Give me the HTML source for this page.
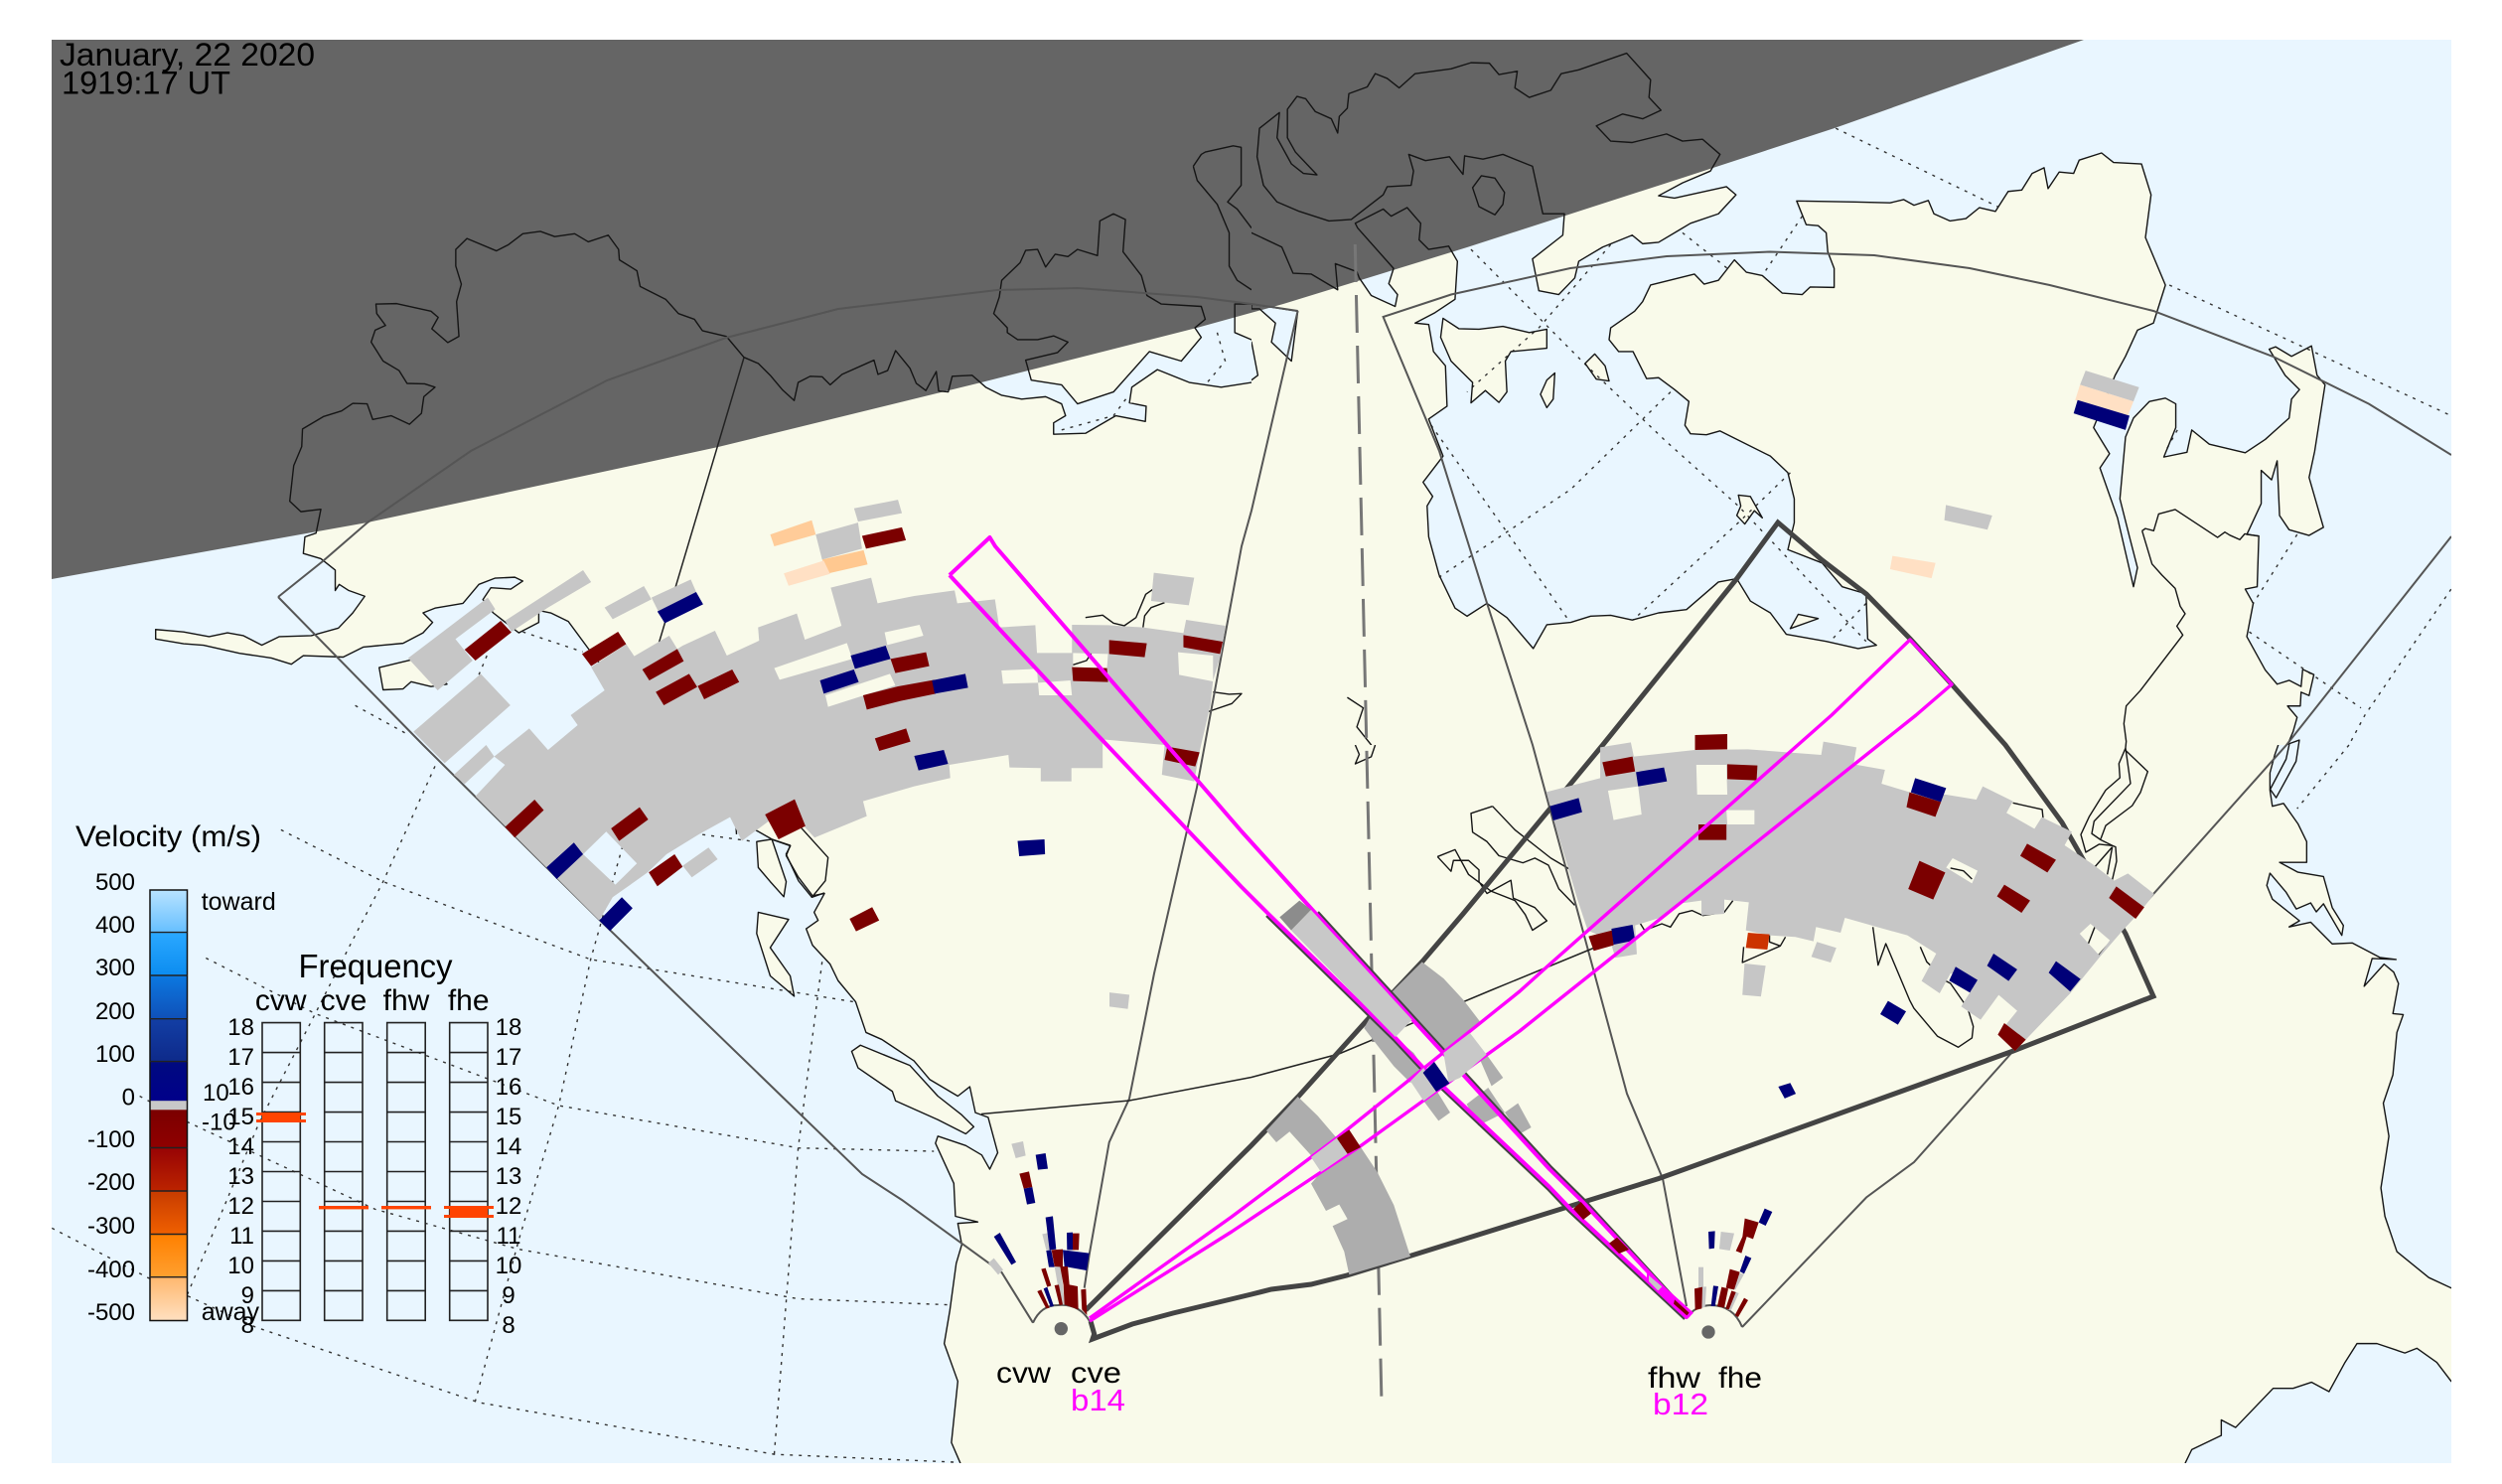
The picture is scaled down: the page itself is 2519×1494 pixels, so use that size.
<!DOCTYPE html>
<html><head><meta charset="utf-8"><title>SuperDARN map</title>
<style>
html,body{margin:0;padding:0;background:#fff}
svg{display:block}
polygon,polyline,path,rect,line,circle{vector-effect:non-scaling-stroke}
text{font-family:"Liberation Sans",sans-serif;fill:#000}
.dot{fill:none;stroke:#333;stroke-width:1.4;stroke-dasharray:3 6}
.coast{fill:none;stroke:#151515;stroke-width:1.4;stroke-linejoin:round}
.g{fill:#c6c6c6;fill-rule:evenodd}
.h{fill:#adadad}
.r{fill:#7b0000}
.b{fill:#000078}
.m{fill:none;stroke:#ff00ff;stroke-width:3.4;stroke-linejoin:round}
.mw{fill:none;stroke:#ff00ff;stroke-width:4;stroke-linejoin:round}
.n{font-size:24px;text-anchor:end}
.f{font-size:24px;text-anchor:end}
.fr{font-size:24px;text-anchor:middle}
.s{font-size:30px}
</style></head><body>
<svg xmlns="http://www.w3.org/2000/svg" width="2519" height="1494" viewBox="0 0 2519 1494">
<defs>
<clipPath id="c1"><rect x="52" y="40" width="1208" height="710"/></clipPath>
<clipPath id="c2"><rect x="1260" y="40" width="1208" height="710"/></clipPath>
<clipPath id="c3"><rect x="52" y="750" width="1208" height="723"/></clipPath>
<clipPath id="c4"><rect x="1260" y="750" width="1208" height="723"/></clipPath>
<clipPath id="plot"><rect x="52" y="40" width="2416" height="1433"/></clipPath>
<linearGradient id="cb" x1="0" y1="0" x2="0" y2="1">
<stop offset="0" stop-color="#b8e3ff"/><stop offset=".099" stop-color="#66bfff"/>
<stop offset=".1" stop-color="#2aa8ff"/><stop offset=".199" stop-color="#0c8cf0"/>
<stop offset=".2" stop-color="#0c78e0"/><stop offset=".3" stop-color="#0f50b8"/>
<stop offset=".301" stop-color="#123ea4"/><stop offset=".399" stop-color="#0e2a8a"/>
<stop offset=".4" stop-color="#000a80"/><stop offset=".489" stop-color="#00008a"/>
<stop offset=".49" stop-color="#c8c8c8"/><stop offset=".51" stop-color="#c8c8c8"/>
<stop offset=".511" stop-color="#7b0000"/><stop offset=".6" stop-color="#900000"/>
<stop offset=".601" stop-color="#980404"/><stop offset=".7" stop-color="#bc2400"/>
<stop offset=".701" stop-color="#c83c00"/><stop offset=".8" stop-color="#f06000"/>
<stop offset=".801" stop-color="#ff8000"/><stop offset=".9" stop-color="#ffa030"/>
<stop offset=".901" stop-color="#ffb870"/><stop offset="1" stop-color="#ffe0c0"/>
</linearGradient>
<g id="q1land">
<polygon points="195,1325 230,1330 262,1340 285,1332 305,1338 328,1358 350,1340 390,1338 424,1322 442,1290 457,1255 437,1243 425,1230 420,1243 420,1200 402,1176 380,1165 382,1130 396,1122 402,1072 377,1077 363,1055 368,980 378,940 379,903 405,877 428,865 442,849 460,850 467,883 490,875 513,893 528,870 531,835 545,815 532,808 510,807 500,780 480,760 465,720 470,695 483,685 472,660 471,640 497,639 540,655 549,668 541,692 561,721 575,708 572,635 578,598 571,560 571,525 585,502 622,528 637,515 655,492 677,487 695,498 720,492 737,509 762,495 775,525 776,547 798,570 802,603 834,630 850,660 870,672 880,696 910,708 932,752 950,765 965,790 980,820 995,843 1000,805 1015,792 1030,793 1040,810 1055,788 1095,758 1100,788 1112,780 1122,738 1140,775 1148,807 1160,822 1173,782 1176,823 1188,825 1193,792 1218,790 1235,815 1255,832 1280,840 1310,835 1330,850 1335,875 1320,890 1320,914 1360,912 1398,875 1435,887 1436,855 1415,848 1418,815 1450,778 1490,805 1530,815 1568,805 1580,805 1580,1580 835,1580 737,1365 712,1308 690,1290 675,1285 675,1310 650,1332 618,1290 605,1262 615,1237 640,1240 655,1223 645,1215 620,1217 600,1230 580,1270 545,1280 530,1290 542,1310 530,1332 505,1354 455,1362 430,1383 380,1380 365,1398 340,1385 300,1375 255,1358 230,1355 195,1345"/>
<polygon points="1285,758 1292,800 1330,810 1350,850 1395,825 1440,740 1480,760 1505,710 1497,690 1510,672 1505,645 1455,640 1437,622 1430,580 1407,530 1410,462 1395,450 1378,465 1375,538 1350,525 1338,540 1322,535 1310,562 1300,525 1285,527 1278,553 1255,590 1252,625 1245,660 1262,690 1262,700 1275,715 1300,715 1320,707 1338,720 1325,742"/>
<polygon points="1547,640 1547,700 1568,715 1580,715 1580,640"/>
<polygon points="475,1405 500,1395 525,1385 560,1440 540,1445 515,1435 505,1450 480,1452"/>
</g>
<g id="q2land">
<polygon points="258,550 247,518 222,525 210,505 212,470 195,437 175,455 165,440 130,470 133,480 178,565 172,597 183,620 180,645 150,622 135,585 132,572 105,555 108,610 75,577 52,575 38,520 0,490 -8,490 -8,720 0,720 8,790 0,800 -8,805 -8,1580 1295,1580 1305,1540 1310,1510 1298,1486 1314,1486 1315,1457 1325,1464 1331,1420 1317,1409 1315,1445 1300,1432 1285,1440 1270,1410 1247,1340 1255,1270 1245,1240 1260,1235 1262,1128 1247,1125 1265,1060 1265,990 1278,1010 1285,970 1288,1085 1300,1115 1325,1127 1343,1110 1325,1005 1332,950 1345,810 1335,790 1328,728 1303,750 1283,730 1275,735 1295,790 1313,820 1303,840 1300,880 1270,925 1245,953 1200,935 1178,905 1172,952 1143,962 1158,900 1158,850 1145,838 1125,845 1105,880 1095,920 1088,1050 1100,1130 1110,1195 1105,1235 1085,1090 1063,985 1075,955 1055,900 1082,790 1095,750 1110,695 1130,680 1145,600 1120,500 1127,410 1115,345 1080,342 1065,322 1037,337 1030,365 1012,362 998,397 993,353 978,365 965,400 948,403 932,445 912,437 895,460 875,465 855,450 848,422 830,432 817,420 800,427 755,425 683,423 695,473 710,475 720,490 722,530 730,565 730,605 700,604 690,620 665,617 640,580 620,573 605,547 585,590 567,598 555,577 500,600 490,635 480,655 450,690 448,715 460,740 478,740 495,797 510,795 530,820 548,845 543,895 550,913 570,915 587,907 650,960 672,995 680,1050 680,1100 672,1157 715,1185 740,1235 770,1250 772,1345 783,1358 760,1365 720,1350 670,1335 650,1290 625,1265 608,1218 585,1225 545,1283 510,1290 477,1305 450,1295 425,1297 400,1310 370,1315 353,1365 320,1300 295,1270 270,1297 255,1280 235,1210 222,1130 220,1065 227,1045 215,1015 240,960 222,882 245,855 243,770 228,740 222,683 205,680 230,658 255,630"/>
<polygon points="510,412 530,417 595,393 607,410 585,450 550,470 535,485 510,510 490,513 477,495 440,520 410,550 405,585 385,620 360,612 352,545 390,495 392,450 365,450 352,350 315,325 290,335 267,328 265,367 248,330 218,338 197,325 203,360 200,390 170,393 165,410 125,462 97,465 60,445 32,425 15,390 7,330 10,270 35,237 32,290 50,345 65,365 82,368 55,320 45,290 45,230 57,203 68,208 80,235 100,250 108,280 110,245 120,228 122,197 145,183 155,155 170,165 185,185 205,155 250,145 275,132 298,133 310,157 333,150 330,185 348,205 375,190 388,155 410,147 470,112 500,168 498,205 513,232 490,250 465,240 432,265 450,297 477,300 520,282 540,297 565,293 587,325 575,360 540,385"/>
<polygon points="240,670 260,692 285,693 315,687 348,700 370,693 370,733 325,740 318,760 320,825 310,847 293,822 275,848 277,805 250,760 237,710"/>
<polygon points="418,765 430,745 443,770 448,802 432,798"/>
<polygon points="362,830 370,800 380,785 378,840 370,858"/>
<polygon points="610,1042 625,1045 640,1090 630,1075 618,1103 608,1085 613,1065"/>
<polygon points="675,1323 685,1293 710,1302"/>
</g>
<g id="q2water"><polygon points="0,640 58,655 50,760 25,720 30,680 10,650 0,650"/></g>
<g id="q3land">
<polygon points="835,-8 919,154 967,200 990,213 985,235 1000,280 1018,320 1033,315 1020,355 1025,372 1010,390 1018,425 1040,465 1050,500 1072,545 1085,610 1105,625 1145,670 1165,710 1200,745 1215,725 1222,780 1238,790 1250,865 1240,900 1230,870 1210,850 1175,830 1172,845 1195,930 1197,1000 1225,1012 1200,1015 1205,1060 1198,1100 1190,1200 1183,1270 1200,1350 1192,1480 1203,1523 1203,1540 1580,1540 1580,-8"/>
<polygon points="948,205 967,200 985,290 982,322 965,290 950,260"/>
<polygon points="950,355 988,370 965,430 990,490 995,533 965,490 948,400"/>
</g>
<g id="q3water"><polygon points="1067,650 1078,637 1140,680 1175,745 1205,785 1220,810 1210,825 1175,795 1122,755 1118,735 1075,685"/></g>
<g id="q4land">
<polygon points="-8,-8 1288,-8 1282,21 1276,59 1276,96 1279,130 1293,124 1311,167 1322,205 1322,249 1288,249 1311,270 1343,279 1354,345 1368,383 1366,404 1343,337 1334,354 1327,335 1309,348 1296,312 1276,272 1272,298 1279,327 1313,373 1300,386 1327,376 1354,422 1379,420 1414,451 1434,455 1404,453 1394,512 1419,465 1431,482 1437,506 1430,570 1443,572 1435,610 1430,700 1418,760 1425,830 1415,940 1420,1000 1435,1075 1475,1130 1503,1152 1520,1152 1520,1370 1503,1350 1485,1310 1460,1280 1445,1290 1410,1270 1385,1270 1370,1310 1350,1372 1328,1352 1305,1365 1280,1365 1233,1448 1215,1432 1215,1465 1178,1495 1170,1523 1170,1540 -8,1540"/>
</g>
</defs>

<rect x="52" y="40" width="2416" height="1433" fill="#e9f6ff"/>

<!-- land fills -->
<g clip-path="url(#c1)"><g transform="scale(.8036,.4783)"><use href="#q1land" fill="#f9faea"/></g></g>
<g clip-path="url(#c2)"><g transform="translate(1260,0) scale(.8036,.4783)"><use href="#q2land" fill="#f9faea"/><use href="#q2water" fill="#e9f6ff"/></g></g>
<g clip-path="url(#c3)"><g transform="translate(0,750) scale(.8036,.4745)"><use href="#q3land" fill="#f9faea"/><use href="#q3water" fill="#f9faea"/></g></g>
<g clip-path="url(#c4)"><g transform="translate(1260,750) scale(.8036,.4745)"><use href="#q4land" fill="#f9faea"/></g></g>

<!-- dotted grid -->
<g clip-path="url(#plot)">
<g transform="translate(0,750) scale(.8036,.4745)">
<polyline class="dot" points="352,180 480,290 740,455 1070,545"/>
<polyline class="dot" points="258,452 395,570 700,765 1000,855 1170,862"/>
<polyline class="dot" points="175,745 235,800 470,985 650,1070 1000,1175 1190,1188"/>
<polyline class="dot" points="65,1025 185,1130 320,1235 600,1395 970,1505 1200,1522"/>
<polyline class="dot" points="545,45 480,290 440,420 395,570 325,800 235,1165"/>
<polyline class="dot" points="780,215 740,455 700,765 650,1050 595,1395"/>
<polyline class="dot" points="1030,460 1000,855 970,1505"/>
<polyline class="dot" points="880,190 945,205"/>
</g>
<g transform="scale(.8036,.4783)">
<polyline class="dot" points="445,1485 510,1545"/>
<polyline class="dot" points="655,1330 730,1372"/>
<polyline class="dot" points="610,1380 600,1420"/>
<polyline class="dot" points="1525,700 1535,760 1510,810"/>
<polyline class="dot" points="1330,905 1395,875 1415,830"/>
</g>
<g transform="translate(1260,0) scale(.8036,.4783)">
<polyline class="dot" points="732,270 935,435"/>
<polyline class="dot" points="275,525 420,770 520,930 610,1065 770,1350"/>
<polyline class="dot" points="540,490 600,570"/>
<polyline class="dot" points="690,455 640,580"/>
<polyline class="dot" points="450,515 360,690 270,825"/>
<polyline class="dot" points="525,825 400,1030 235,1215"/>
<polyline class="dot" points="225,895 320,1120 395,1300"/>
<polyline class="dot" points="675,995 610,1100 478,1305"/>
<polyline class="dot" points="1150,600 1330,740 1503,875"/>
<polyline class="dot" points="1310,1125 1255,1270"/>
<polyline class="dot" points="1250,1330 1390,1490"/>
<polyline class="dot" points="1503,1240 1395,1505 1375,1568"/>
<polyline class="dot" points="770,1270 725,1350"/>
<polyline class="dot" points="1160,905 1145,950"/>
</g>
<g transform="translate(1260,750) scale(.8036,.4745)"><polyline class="dot" points="1375,0 1310,135"/></g>
</g>

<!-- terminator -->
<polygon fill="#656565" points="52,40 2098,40 1847,129 1694,179 1477,249 1292,306 1205,330 988,385 723,450 370,526 52,583"/>

<!-- coast strokes -->
<g clip-path="url(#c1)"><g transform="scale(.8036,.4783)" class="coast">
<use href="#q1land"/>
<polyline points="1495,350 1505,325 1510,320 1545,307 1555,310 1555,390 1538,425 1550,440 1568,480"/>
<polyline points="1495,350 1500,380 1525,430 1540,490 1540,560 1550,590 1568,610"/>
</g></g>
<g clip-path="url(#c2)"><g transform="translate(1260,0) scale(.8036,.4783)" class="coast">
<use href="#q2land"/><use href="#q2water"/>
<polyline points="120,1468 140,1490 132,1530 150,1568 155,1600"/>
<polygon points="288,370 305,375 317,405 315,430 305,452 285,435 277,395"/>
</g></g>
<g clip-path="url(#c3)"><g transform="translate(0,750) scale(.8036,.4745)" class="coast"><use href="#q3land"/><use href="#q3water"/></g></g>
<g clip-path="url(#c4)"><g transform="translate(1260,750) scale(.8036,.4745)" class="coast">
<use href="#q4land"/>
<polyline points="155,0 150,25 130,40 135,20 130,0"/>
<polyline points="302,130 275,145 277,185 295,205 310,235 340,250 355,240 372,255 385,305 405,340"/>
<polyline points="302,130 330,180 375,240 400,265"/>
<polyline points="233,237 250,268 253,245 272,245 285,265 285,290 295,315 325,287 328,325 355,345 370,373 352,393 343,360 330,330 300,310 272,275 255,222 233,237"/>
</g></g>
<g clip-path="url(#plot)"><g transform="translate(2000,300) scale(.3333,.4464)" class="coast">
<polyline points="470,525 480,520 505,525 520,487 570,477 698,540 720,528 735,535 765,545 780,532 820,537"/>
<polyline points="470,525 500,600 530,625 570,655 585,695 600,712 575,740 593,760 465,885 422,920 415,960 422,1000 420,1015"/>
<polyline points="420,1015 400,1050 403,1082 360,1110 310,1170 285,1210 300,1250 340,1232 380,1235"/>
<polyline points="420,1015 435,1095 325,1180 318,1208 345,1222 380,1235 390,1238 393,1270 380,1312"/>
<polyline points="380,1238 365,1300"/><polyline points="325,1285 380,1238"/>
<polyline points="420,1020 487,1068 465,1115 440,1145 360,1190 345,1220"/>
<polygon points="945,997 935,1045 875,1127 857,1108 905,1040 915,1005"/>
</g>
<g transform="translate(400,550) scale(.5421,.3333)" class="coast">
<polyline points="1278,215 1310,208 1330,232 1350,240 1372,215 1390,145 1405,128"/>
<polyline points="1385,245 1388,210 1400,185 1425,170"/>
<polyline points="1255,358 1280,345 1290,320"/>
<polyline points="1515,440 1545,447 1568,445 1550,475 1505,500"/>
<polyline points="750,850 800,940 795,1010 770,1060 793,1047"/>
<polyline points="695,885 730,905 722,930 745,1010 770,1060"/>
<polyline points="628,820 630,870"/>
</g>
<g transform="translate(1530,720) scale(.4337,.3333)" class="coast">
<polyline points="820,640 832,755 850,690 905,860 915,885 970,970 1018,1003 1050,975 1053,940 1040,885 1000,810 985,800"/>
<polyline points="930,700 945,745 965,770"/>
<polyline points="520,700 517,747 605,697 617,670"/>
<polyline points="580,665 580,685 605,697"/>
<polyline points="278,625 290,650 330,630 350,640 370,600 400,590 425,605 475,595 495,560"/>
<polyline points="1145,265 1213,285 1215,310"/>
<polyline points="1000,462 1030,470 1050,495"/>
<polyline points="1320,690 1335,640"/>
</g></g>

<!-- thin FOV lines -->
<g clip-path="url(#plot)" fill="none" stroke="#555" stroke-width="2">
<polyline points="280,601 426,750 603,925.6 868,1182 908,1208 1008.5,1281 1040,1331.7"/>
<polyline points="280,601 325,565 370,526 474,454 611,383 731,340 844,311 1004,292 1085,290 1205,299 1260,306 1306.6,313"/>
<polyline points="1306.6,313 1260,514 1250,550 1205,792.7 1162,980 1137,1106 1116.7,1150 1096.7,1263 1091.7,1296.7"/>
<polyline points="2468,458 2385,406.6 2288.6,359 2168,313 2063.6,287 1983,270 1887,257 1782,253.5 1678,258 1581,270 1461,296.5 1392.6,319 1449,454 1497,607 1543,750 1638,1101 1674,1186.5 1698,1315"/>
<polyline points="2468,540 2302,750 2027,1058 1927,1170 1879,1205.5 1754,1336"/>
<path d="M1040,1331.7 Q1048,1314 1065,1314 Q1086,1312 1097,1330"/>
<path d="M1699,1326 Q1706,1315 1722,1314 Q1745,1314 1754,1336"/>
<polyline stroke="#222" stroke-width="1.5" points="749,360 659,662"/>
<polyline stroke="#222" stroke-width="1.5" points="988,1121.5 1137,1108 1260,1084.5 1348,1061 1501,997 1605.5,954"/>
</g>

<!-- dashed divider -->
<line x1="1364.3" y1="246" x2="1391" y2="1413" stroke="#777" stroke-width="3" stroke-dasharray="38 13"/>

<!-- bold sector -->
<polyline fill="none" stroke="#444" stroke-width="5" stroke-linejoin="miter" points="1098,1330 1101.7,1343 1100,1348 1140,1333 1181,1322 1260,1303 1280,1298 1320,1293 1356,1284 1421,1264 1670,1186.5 2027,1058 2168,1003 2140,940 2076,828 2019,750 1965,689 1923,643 1879,598 1834.6,564 1790,526 1748.6,582.6 1613.6,750 1473,920 1432,968 1380,1023 1307,1104 1260,1153 1093,1319"/>

<!-- echoes west -->
<g transform="translate(400,550) scale(.5421,.3333)">
<path class="g" d="M805,125 880,95 892,172 960,150 1035,133 1040,172 1110,160 1118,245 1185,238 1188,322 1253,322 1253,237 1320,238 1385,245 1460,262 1465,222 1538,240 1530,325 1515,405 1510,480 1490,620 1480,710 1420,690 1425,600 1310,583 1310,670 1252,670 1252,710 1195,710 1195,670 1137,668 1135,630 1025,660 1027,700 960,725 865,770 872,815 775,880 755,845 708,883 690,830 640,890 618,818 560,870 500,930 465,985 400,1060 375,1130 145,755 200,660 180,635 245,550 280,615 335,540 322,510 385,435 360,365 425,295 440,332 505,270 520,310 530,300 590,255 612,330 672,285 670,245 742,203 757,282 825,240Z
M905,260 970,237 977,270 910,298Z M700,368 835,292 845,340 710,403Z M795,450 915,385 925,420 800,485Z M1122,375 1188,370 1190,412 1125,415Z M1190,412 1250,405 1253,450 1192,450Z M1255,322 1320,325 1318,368 1255,365Z M1450,320 1515,330 1515,408 1452,388Z M345,930 388,862 445,958 405,1022Z"/>
<polygon class="g" points="20,338 168,155 182,190 108,280 140,345 75,435"/>
<polygon class="g" points="200,225 345,72 360,108 280,185 212,258"/>
<polygon class="g" points="385,185 458,120 472,160 400,220"/>
<polygon class="g" points="472,155 545,100 565,175 495,230"/>
<polygon class="g" points="30,560 155,385 210,480 88,655"/>
<polygon class="g" points="105,690 165,600 180,635 125,718"/>
<polygon class="g" points="530,965 578,910 595,945 547,1000"/>
<polygon class="g" points="1405,80 1480,95 1470,178 1400,165"/>
<polygon class="r" points="125,312 192,225 212,260 145,345"/>
<polygon class="r" points="343,325 410,258 425,295 360,362"/>
<polygon class="r" points="455,372 520,310 532,347 468,405"/>
<polygon class="r" points="480,440 542,385 557,425 495,480"/>
<polygon class="r" points="558,422 622,372 635,410 570,462"/>
<polygon class="r" points="865,450 930,423 998,403 1000,445 935,467 872,493"/>
<polygon class="r" points="916,340 982,320 988,362 925,383"/>
<polygon class="r" points="887,580 945,550 953,590 895,618"/>
<polygon class="r" points="1322,283 1392,293 1388,335 1322,325"/>
<polygon class="r" points="1253,365 1318,368 1320,410 1255,407"/>
<polygon class="r" points="1460,268 1533,288 1528,325 1460,305"/>
<polygon class="r" points="1430,605 1490,622 1482,665 1425,645"/>
<polygon class="r" points="200,848 255,765 272,797 218,880"/>
<polygon class="r" points="397,852 450,788 466,825 412,890"/>
<polygon class="r" points="683,810 738,764 758,845 708,885"/>
<polygon class="r" points="467,985 515,930 530,968 483,1027"/>
<polygon class="r" points="840,1125 882,1090 895,1130 852,1163"/>
<polygon class="b" points="483,197 555,138 568,175 497,232"/>
<polygon class="b" points="842,330 907,300 916,340 850,370"/>
<polygon class="b" points="785,405 848,372 857,410 792,445"/>
<polygon class="b" points="993,405 1055,385 1060,427 998,445"/>
<polygon class="b" points="960,633 1015,615 1023,657 968,677"/>
<polygon class="b" points="277,970 328,895 345,930 296,1005"/>
<polygon class="b" points="375,1130 417,1060 437,1093 395,1162"/>
<polygon class="b" points="1152,890 1202,885 1203,930 1155,936"/>
</g>
<g transform="scale(.8036,.4783)">
<polygon fill="#ffcc99" points="965,1125 1017,1095 1022,1125 970,1150"/>
<polygon class="g" points="1022,1125 1075,1100 1080,1155 1030,1178"/>
<polygon class="g" points="1070,1070 1125,1052 1130,1080 1075,1098"/>
<polygon class="r" points="1080,1128 1130,1110 1135,1137 1085,1155"/>
<polygon fill="#ffc890" points="1030,1178 1082,1158 1087,1188 1038,1207"/>
<polygon fill="#ffe0c4" points="982,1207 1032,1180 1040,1208 988,1233"/>
</g>

<!-- echoes east -->
<g transform="translate(1530,720) scale(.4337,.3333)">
<path class="g" d="M62,232 187,190 187,97 258,82 265,125 407,105 530,103 700,120 705,80 782,97 775,148 848,165 840,207 912,235 990,240 1060,255 1075,215 1145,260 1130,295 1195,343 1212,308 1282,352 1265,393 1330,450 1380,500 1412,478 1473,540 1450,578 1425,615 1400,650 1350,725 1278,840 1175,980 1150,1015 1110,965 1155,893 1112,845 1070,920 1025,880 1063,800 1045,790 1000,780 975,840 933,803 967,720 900,665 830,640 755,612 745,657 688,640 682,683 640,670 580,665 525,650 532,565 495,560 475,557 475,600 422,605 422,560 365,570 330,610 268,635 272,722 222,733 210,680 158,650 135,560 110,450 80,320Z
M205,228 275,215 283,300 218,317Z M410,150 480,150 482,240 412,240Z M480,287 545,287 545,330 482,330Z M990,460 1005,432 1063,470 1050,508Z M1300,660 1325,630 1370,680 1345,725Z"/>
<polygon class="g" points="690,685 735,703 722,747 677,730"/>
<polygon class="g" points="522,750 571,757 560,850 517,845"/>
<polygon class="r" points="192,142 262,125 268,170 200,185"/>
<polygon class="r" points="407,60 482,57 482,103 407,105"/>
<polygon class="r" points="482,148 552,152 550,197 482,193"/>
<polygon class="r" points="415,330 480,330 480,377 415,377"/>
<polygon class="r" points="905,233 978,262 965,307 898,278"/>
<polygon class="r" points="928,440 988,475 960,557 902,525"/>
<polygon class="r" points="1178,388 1245,437 1225,475 1162,425"/>
<polygon class="r" points="1125,512 1185,560 1165,597 1108,547"/>
<polygon class="r" points="1385,517 1450,580 1430,615 1368,552"/>
<polygon class="r" points="1125,930 1175,980 1150,1015 1110,965"/>
<polygon class="r" points="160,668 215,650 218,695 172,712"/>
<polygon class="b" points="70,275 137,250 145,293 78,318"/>
<polygon class="b" points="270,172 335,158 342,200 275,215"/>
<polygon class="b" points="918,190 990,220 978,262 908,233"/>
<polygon class="b" points="1012,760 1063,800 1045,838 997,802"/>
<polygon class="b" points="1100,720 1155,768 1135,803 1085,757"/>
<polygon class="b" points="1245,743 1302,797 1278,835 1228,778"/>
<polygon class="b" points="855,863 897,895 878,935 837,903"/>
<polygon class="b" points="213,645 262,633 268,680 218,693"/>
<polygon fill="#cc3300" points="530,657 580,662 575,708 525,703"/>
</g>
<g transform="translate(1260,0) scale(.8036,.4783)">
<polygon class="g" points="1045,780 1112,815 1105,845 1038,810"/>
<polygon fill="#ffe0c4" points="1038,810 1105,845 1098,875 1032,842"/>
<polygon class="b" points="1035,842 1100,875 1095,905 1030,870"/>
<polygon class="g" points="870,1063 928,1085 922,1115 868,1095"/>
<polygon fill="#ffe0c4" points="803,1170 857,1185 852,1217 800,1198"/>
</g>
<g transform="translate(1260,750) scale(.8036,.4745)">
<polygon class="b" points="660,725 675,717 682,740 668,750"/>
</g>
<g transform="translate(0,750) scale(.8036,.4745)">
<polygon class="g" points="1390,525 1415,530 1413,560 1390,555"/>
</g>

<!-- mid sector echoes (beneath beams) -->
<g transform="translate(1240,920) scale(.3333)">
<polygon class="h" points="575,145 640,195 700,260 750,325 720,360 640,420 545,320 480,240"/>
<polygon class="h" points="420,310 495,375 550,420 580,465 540,510 490,460 450,410 400,345"/>
<polygon class="h" points="580,565 620,535 660,600 625,625"/>
<polygon class="h" points="750,440 770,425 820,495 785,520"/>
<polygon class="h" points="775,525 825,600 745,640 710,575"/>
<polygon class="h" points="825,600 865,572 905,645 870,665"/>
<polygon class="h" points="105,655 200,552 260,610 318,678 245,735 175,658 135,690"/>
<polygon class="h" points="270,780 350,725 390,705 440,780 490,880 540,1035 355,1090 340,1020 305,943 350,922 325,878 285,897 240,815"/>
</g>

<!-- radar fans -->
<g transform="translate(960,1130) scale(.3333)">
<polygon class="g" points="175,65 210,57 218,100 188,108"/>
<polygon class="g" points="105,425 122,410 150,445 135,460"/>
<polygon class="g" points="268,337 290,333 297,385 280,385"/>
<polygon class="g" points="305,435 325,435 335,550 325,550"/>
<polygon class="b" points="248,98 278,93 285,140 255,143"/>
<polygon class="b" points="212,200 238,195 247,243 222,248"/>
<polygon class="b" points="122,345 140,333 189,422 175,430"/>
<polygon class="b" points="278,287 300,283 310,383 290,385"/>
<polygon class="b" points="342,333 360,332 360,385 343,385"/>
<polygon class="b" points="280,387 295,385 305,437 288,437"/>
<polygon class="b" points="330,385 410,395 402,447 335,435"/>
<polygon class="b" points="272,502 283,497 303,555 293,557"/>
<polygon class="r" points="199,155 228,148 238,195 212,200"/>
<polygon class="r" points="360,335 380,335 378,385 360,385"/>
<polygon class="r" points="296,385 330,383 330,437 305,435"/>
<polygon class="r" points="265,443 278,440 295,493 283,497"/>
<polygon class="r" points="253,510 265,505 290,560 280,562"/>
<polygon class="r" points="305,492 318,490 330,550 320,552"/>
<polygon class="r" points="322,435 345,435 350,490 375,495 377,565 335,550 332,490"/>
<polygon class="r" points="385,505 400,503 403,582 388,565"/>
<circle cx="325" cy="623" r="20" fill="#666"/>
</g>
<g transform="translate(1660,1190) scale(.3333)">
<polygon class="b" points="180,150 200,148 198,200 182,202"/>
<polygon class="b" points="350,80 373,90 353,132 332,122"/>
<polygon class="b" points="292,222 310,230 288,277 275,270"/>
<polygon class="b" points="195,313 210,315 200,375 188,375"/>
<polygon class="g" points="218,150 258,155 245,207 213,202"/>
<polygon class="g" points="150,257 165,257 165,320 150,320"/>
<polygon class="g" points="160,316 174,316 170,378 160,380"/>
<polygon class="g" points="270,275 288,278 262,325 250,322"/>
<polygon class="g" points="258,330 272,336 248,388 238,385"/>
<polygon class="r" points="290,110 332,122 315,172 296,165 280,215 263,208 283,165"/>
<polygon class="r" points="245,263 275,272 258,325 233,320"/>
<polygon class="r" points="220,317 240,322 228,380 207,375"/>
<polygon class="r" points="250,328 263,333 242,385 232,382"/>
<polygon class="r" points="288,350 300,357 270,408 260,402"/>
<polygon class="r" points="138,322 162,317 160,382 140,387"/>
<circle cx="180" cy="453" r="20" fill="#666"/>
</g>

<!-- beams -->
<g fill="none" stroke="#444" stroke-width="4">
<polyline transform="translate(1.4,-1.4)" points="1325,920 1453,1060 1560,1177 1593.5,1210 1698,1324"/>
<polyline transform="translate(-1.4,1.4)" points="1277,920 1405,1045 1433,1075 1560,1195 1581,1217 1698,1326"/>
</g>
<polyline class="mw" points="956,579 1105,740 1250,893 1277,920 1405,1045 1433,1075 1560,1195 1581,1217 1698,1326 1700,1324 1593.5,1210 1560,1177 1453,1060 1325,920 1250,837 1002,550 996.5,541 956,579"/>
<polyline class="m" points="1097,1327 1240,1225 1346.7,1145 1530,998 1560,971 1844,720 1923,644 1965,689 1929,720 1560,1014 1530,1038 1368,1155 1330,1180 1240,1240 1097,1330"/>

<!-- echoes over beams -->
<g transform="translate(1240,920) scale(.3333)">
<polygon fill="#8c8c8c" points="145,10 205,-40 240,-12 180,50"/>
<polygon fill="#c8c8c8" points="180,50 240,-12 545,320 495,372"/>
<polygon fill="#c8c8c8" points="240,735 320,675 385,705 350,725 270,780"/>
<polygon fill="#c8c8c8" points="540,505 580,465 620,535 580,565"/>
<polygon fill="#c8c8c8" points="640,420 720,360 770,425 690,495 655,510"/>
<polygon class="b" points="578,480 612,447 658,512 618,537"/>
<polygon class="r" points="318,678 355,652 390,705 350,725"/>
</g>
<polygon class="r" points="1591.7,1210 1602,1221.7 1594,1228 1584,1217"/>
<polygon class="r" points="1628,1245.7 1640,1258 1630,1262 1620,1251.7"/>
<g transform="translate(1660,1190) scale(.3333)">
<polygon fill="#ff00ff" points="-6,268 135,395 120,410 -6,296"/>
<polygon class="g" points="0,282 40,316 28,328 0,300"/>
<polygon class="r" points="78,355 122,395 115,403 75,368"/>
</g>

<!-- colour bar -->
<rect x="151" y="896" width="37.5" height="433.5" fill="url(#cb)" stroke="#111" stroke-width="1.5"/>
<g stroke="#222" stroke-width="1.4">
<line x1="151" x2="188.5" y1="938.6" y2="938.6"/><line x1="151" x2="188.5" y1="982" y2="982"/>
<line x1="151" x2="188.5" y1="1025.7" y2="1025.7"/><line x1="151" x2="188.5" y1="1068.6" y2="1068.6"/>
<line x1="151" x2="188.5" y1="1155.5" y2="1155.5"/><line x1="151" x2="188.5" y1="1199" y2="1199"/>
<line x1="151" x2="188.5" y1="1242.5" y2="1242.5"/><line x1="151" x2="188.5" y1="1285.7" y2="1285.7"/>
</g>
<text class="s" x="76" y="852" textLength="187" lengthAdjust="spacingAndGlyphs">Velocity (m/s)</text>
<g class="n">
<text class="n" x="136" y="896">500</text><text class="n" x="136" y="939">400</text><text class="n" x="136" y="982">300</text>
<text class="n" x="136" y="1026">200</text><text class="n" x="136" y="1069">100</text><text class="n" x="136" y="1112.5">0</text>
<text class="n" x="136" y="1155">-100</text><text class="n" x="136" y="1198">-200</text><text class="n" x="136" y="1242">-300</text>
<text class="n" x="136" y="1286">-400</text><text class="n" x="136" y="1329">-500</text>
</g>
<text x="202.7" y="916" font-size="25">toward</text>
<text x="202.7" y="1329" font-size="25">away</text>
<text x="204" y="1108" font-size="24">10</text>
<text x="203" y="1137.5" font-size="24">-10</text>

<!-- frequency panel -->
<text x="378" y="984" font-size="33" text-anchor="middle" textLength="155" lengthAdjust="spacingAndGlyphs">Frequency</text>
<text x="282.7" y="1017" font-size="30" text-anchor="middle">cvw</text>
<text x="346" y="1017" font-size="30" text-anchor="middle">cve</text>
<text x="409" y="1017" font-size="30" text-anchor="middle">fhw</text>
<text x="471.7" y="1017" font-size="30" text-anchor="middle">fhe</text>
<g fill="none" stroke="#222" stroke-width="1.6">
<rect x="264" y="1029.6" width="38.3" height="299.7"/>
<rect x="326.7" y="1029.6" width="38.3" height="299.7"/>
<rect x="389.7" y="1029.6" width="38.5" height="299.7"/>
<rect x="452.7" y="1029.6" width="38.3" height="299.7"/>
<path d="M264,1059.6H302.3M264,1089.6H302.3M264,1119.6H302.3M264,1149.5H302.3M264,1179.5H302.3M264,1209.5H302.3M264,1239.4H302.3M264,1269.4H302.3M264,1299.4H302.3"/>
<path d="M326.7,1059.6H365M326.7,1089.6H365M326.7,1119.6H365M326.7,1149.5H365M326.7,1179.5H365M326.7,1209.5H365M326.7,1239.4H365M326.7,1269.4H365M326.7,1299.4H365"/>
<path d="M389.7,1059.6H428.2M389.7,1089.6H428.2M389.7,1119.6H428.2M389.7,1149.5H428.2M389.7,1179.5H428.2M389.7,1209.5H428.2M389.7,1239.4H428.2M389.7,1269.4H428.2M389.7,1299.4H428.2"/>
<path d="M452.7,1059.6H491M452.7,1089.6H491M452.7,1119.6H491M452.7,1149.5H491M452.7,1179.5H491M452.7,1209.5H491M452.7,1239.4H491M452.7,1269.4H491M452.7,1299.4H491"/>
</g>
<g fill="#ff4400">
<rect x="264" y="1120" width="38.3" height="10"/>
<rect x="258" y="1120" width="50" height="3"/><rect x="258" y="1127" width="50" height="3"/>
<rect x="321" y="1214" width="50" height="3.4"/>
<rect x="384" y="1214" width="50" height="3.4"/>
<rect x="452.7" y="1214" width="38.3" height="12"/>
<rect x="447" y="1214" width="50" height="3"/><rect x="447" y="1223" width="50" height="3"/>
</g>
<g>
<text class="f" x="256" y="1042">18</text><text class="f" x="256" y="1072">17</text><text class="f" x="256" y="1102">16</text>
<text class="f" x="256" y="1132">15</text><text class="f" x="256" y="1162">14</text><text class="f" x="256" y="1192">13</text>
<text class="f" x="256" y="1222">12</text><text class="f" x="256" y="1252">11</text><text class="f" x="256" y="1282">10</text>
<text class="f" x="256" y="1312">9</text><text class="f" x="256" y="1342">8</text>
<text class="fr" x="512" y="1042">18</text><text class="fr" x="512" y="1072">17</text><text class="fr" x="512" y="1102">16</text>
<text class="fr" x="512" y="1132">15</text><text class="fr" x="512" y="1162">14</text><text class="fr" x="512" y="1192">13</text>
<text class="fr" x="512" y="1222">12</text><text class="fr" x="512" y="1252">11</text><text class="fr" x="512" y="1282">10</text>
<text class="fr" x="512" y="1312">9</text><text class="fr" x="512" y="1342">8</text>
</g>

<!-- titles -->
<text x="60" y="66" font-size="32" textLength="257" lengthAdjust="spacingAndGlyphs">January, 22 2020</text>
<text x="62" y="94.7" font-size="32" textLength="170" lengthAdjust="spacingAndGlyphs">1919:17 UT</text>

<!-- radar labels -->
<text x="1003" y="1392" font-size="30" textLength="55" lengthAdjust="spacingAndGlyphs">cvw</text>
<text x="1078" y="1392" font-size="30" textLength="51" lengthAdjust="spacingAndGlyphs">cve</text>
<text x="1078" y="1420" font-size="31" style="fill:#ff00ff" textLength="55" lengthAdjust="spacingAndGlyphs">b14</text>
<text x="1659" y="1397" font-size="30" textLength="53" lengthAdjust="spacingAndGlyphs">fhw</text>
<text x="1730" y="1397" font-size="30" textLength="44" lengthAdjust="spacingAndGlyphs">fhe</text>
<text x="1664" y="1424" font-size="31" style="fill:#ff00ff" textLength="56" lengthAdjust="spacingAndGlyphs">b12</text>
</svg>
</body></html>
